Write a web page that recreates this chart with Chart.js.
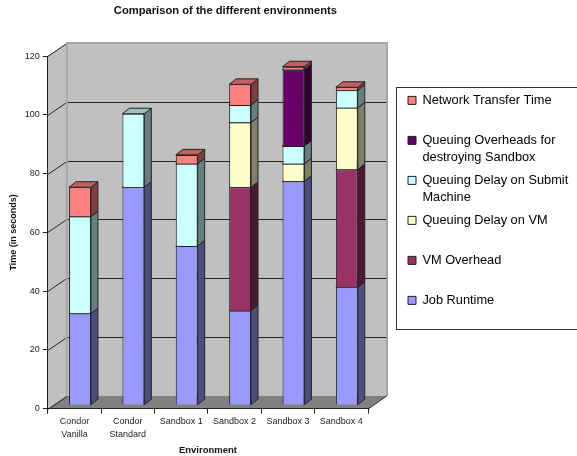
<!DOCTYPE html>
<html>
<head>
<meta charset="utf-8">
<style>html,body{margin:0;padding:0;background:#fff}canvas{display:block}</style>
<script src="https://cdn.jsdelivr.net/npm/chart.js@4"></script>
</head>
<body>
<canvas id="c" width="577" height="456"></canvas>
<script>
const categories = [["Condor","Vanilla"],["Condor","Standard"],"Sandbox 1","Sandbox 2","Sandbox 3","Sandbox 4"];
const jobRuntime      = [31,74,54,32,76,40];
const vmOverhead      = [0,0,0,42,0,40];
const queueVm         = [0,0,0,22,6,21];
const queueSubmit     = [33,25,28,6,6,6];
const queueDestroy    = [0,0,0,0,26,0];
const networkTransfer = [10,0,3,7,1,1];

const seriesLabels = [
  ["Job Runtime",""],
  ["VM Overhead",""],
  ["Queuing Delay on VM",""],
  ["Queuing Delay on Submit","Machine"],
  ["Queuing Overheads for","destroying Sandbox"],
  ["Network Transfer Time",""]
];
const seriesValues = [jobRuntime,vmOverhead,queueVm,queueSubmit,queueDestroy,networkTransfer];
const seriesColors = ["#9999ff","#993366","#ffffcc","#ccffff","#660066","#ff8080"];

const FONT = "'Liberation Sans', Arial, sans-serif";
const WALL_DX = 19, WALL_DY = 13;
const BAR_SHIFT = 5.5, BAR_DX = 7, BAR_DY = 5.5;
const LEGEND_BOX = {left:396.5, top:87, right:580, bottom:329};

function shade(hex, k){
  const n = parseInt(hex.slice(1),16);
  const c = [n>>16&255,n>>8&255,n&255].map(v=>Math.round(v*k));
  return `rgb(${c[0]},${c[1]},${c[2]})`;
}
function poly(ctx, pts, fill, stroke){
  ctx.beginPath();
  pts.forEach((p,i)=> i?ctx.lineTo(p[0],p[1]):ctx.moveTo(p[0],p[1]));
  ctx.closePath();
  if(fill){ctx.fillStyle=fill;ctx.fill();}
  if(stroke){ctx.strokeStyle=stroke;ctx.lineWidth=1;ctx.stroke();}
}

const scene3d = {
  id:'scene3d',
  afterLayout(chart){
    const l = chart.legend;
    l.left = 402; l.right = 577; l.top = 88; l.bottom = 329;
    const t = chart.titleBlock;
    t.left = chart.chartArea.left; t.right = 403;
  },
  beforeDraw(chart){
    const ctx = chart.ctx, a = chart.chartArea, y = chart.scales.y;
    const L=a.left,R=a.right,T=a.top,B=a.bottom,dx=WALL_DX,dy=WALL_DY;
    ctx.save();
    poly(ctx,[[L,T],[L+dx,T-dy],[L+dx,B-dy],[L,B]],'#c0c0c0');
    poly(ctx,[[L+dx,T-dy],[R+dx,T-dy],[R+dx,B-dy],[L+dx,B-dy]],'#c0c0c0');
    poly(ctx,[[L,B],[R,B],[R+dx,B-dy],[L+dx,B-dy]],'#808080');
    ctx.lineWidth=1;
    y.ticks.forEach(t=>{
      const p=Math.round(y.getPixelForValue(t.value))+.5;
      ctx.strokeStyle='#222';
      ctx.beginPath();
      ctx.moveTo(L,p);ctx.lineTo(L+dx,p-dy);
      if(t.value>0 && t.value<120) ctx.lineTo(R+dx,p-dy);
      ctx.stroke();
    });
    ctx.strokeStyle='#a6a6a6';ctx.lineWidth=2;
    ctx.beginPath();
    ctx.moveTo(L+dx,B-dy);ctx.lineTo(L+dx,T-dy);ctx.lineTo(R+dx,T-dy);ctx.lineTo(R+dx,B-dy);
    ctx.stroke();
    ctx.strokeStyle='#222';ctx.lineWidth=1;
    ctx.beginPath();ctx.moveTo(R,B+.5);ctx.lineTo(R+dx,B-dy);ctx.stroke();
    ctx.fillStyle='#fff';
    const f=LEGEND_BOX;
    ctx.fillRect(f.left,f.top,f.right-f.left,f.bottom-f.top);
    ctx.strokeStyle='#333';ctx.strokeRect(f.left,f.top+.5,f.right-f.left,f.bottom-f.top);
    ctx.restore();
  },
  beforeDatasetsDraw(chart){
    const ctx=chart.ctx;
    ctx.save();
    ctx.translate(BAR_SHIFT,0);
    chart.getSortedVisibleDatasetMetas().forEach(meta=>{
      const col=chart.data.datasets[meta.index].backgroundColor;
      meta.data.forEach(el=>{
        const {x,y,base,width}=el.getProps(['x','y','base','width'],true);
        if(Math.abs(base-y)<.01) return;
        const x0=x-width/2,x1=x+width/2;
        poly(ctx,[[x1,y],[x1+BAR_DX,y-BAR_DY],[x1+BAR_DX,base-BAR_DY],[x1,base]],shade(col,.5),'#222');
        poly(ctx,[[x0,y],[x0+BAR_DX,y-BAR_DY],[x1+BAR_DX,y-BAR_DY],[x1,y]],shade(col,.76),'#222');
      });
    });
    ctx.restore();
  },
  beforeDatasetDraw(chart){chart.ctx.save();chart.ctx.translate(BAR_SHIFT,0);},
  afterDatasetDraw(chart){chart.ctx.restore();}
};

new Chart(document.getElementById('c'),{
  type:'bar',
  data:{
    labels:categories,
    datasets:seriesValues.map((v,i)=>({
      label:seriesLabels[i].join(' ').trim(),
      data:v,
      backgroundColor:seriesColors[i],
      borderColor:'#222',
      borderWidth:1,
      barPercentage:.41,
      categoryPercentage:1,
      yAxisID:'yBar',
      clip:false
    }))
  },
  plugins:[scene3d],
  options:{
    responsive:false,
    animation:false,
    devicePixelRatio:1,
    layout:{padding:{left:8,right:209,top:4,bottom:0}},
    plugins:{
      tooltip:{enabled:false},
      title:{
        display:true,
        text:"Comparison of the different environments",
        color:'#111',
        font:{family:FONT,size:11.2,weight:'bold',lineHeight:1.2},
        padding:{top:0,bottom:38.6}
      },
      legend:{
        position:'chartArea',
        align:'start',
        reverse:true,
        labels:{
          color:'#222',
          boxWidth:8,boxHeight:8,padding:6,
          font:{family:FONT,size:12.8,lineHeight:1.328},
          generateLabels(chart){
            return chart.data.datasets.map((d,i)=>({
              text:seriesLabels[i],
              fillStyle:d.backgroundColor,
              strokeStyle:'#222',
              lineWidth:1,
              datasetIndex:i,
              hidden:false
            }));
          }
        }
      }
    },
    scales:{
      x:{
        stacked:true,
        grid:{drawOnChartArea:false,tickLength:5,color:'#222'},
        border:{color:'#222'},
        ticks:{color:'#222',font:{family:FONT,size:9,lineHeight:1.44},autoSkip:false,maxRotation:0,padding:1},
        title:{display:true,text:"Environment",color:'#111',font:{family:FONT,size:9.5,weight:'bold',lineHeight:1.2},padding:{top:3,bottom:0}}
      },
      y:{
        position:'left',
        min:0,max:120,
        grid:{drawOnChartArea:false,tickLength:5,color:'#222'},
        border:{color:'#222'},
        ticks:{stepSize:20,color:'#222',font:{family:FONT,size:9},padding:3},
        title:{display:true,text:"Time (in seconds)",color:'#111',font:{family:FONT,size:9,weight:'bold',lineHeight:1.2},padding:{top:0,bottom:3}}
      },
      yBar:{
        display:false,
        stacked:true,
        min:-1.364,max:118.636
      }
    }
  }
});
</script>
</body>
</html>
